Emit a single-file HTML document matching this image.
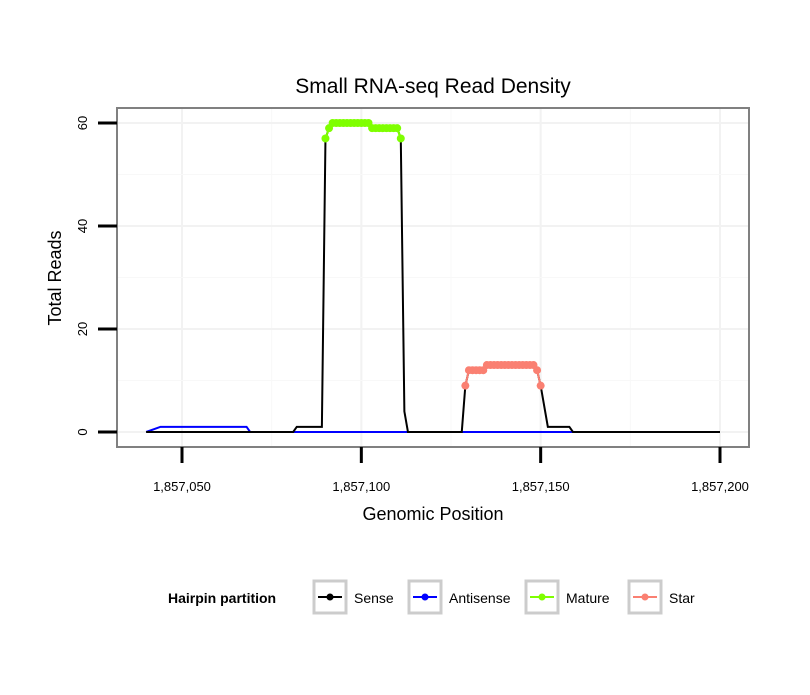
<!DOCTYPE html>
<html><head><meta charset="utf-8"><style>
body{margin:0;background:#fff;font-family:"Liberation Sans",sans-serif}
</style></head><body>
<svg width="810" height="690" xmlns="http://www.w3.org/2000/svg" font-family="Liberation Sans, sans-serif">
<g id="plot"></g>
</svg>
<script>
const xTicks=[1857050,1857100,1857150,1857200];
const xTickLabels=["1,857,050","1,857,100","1,857,150","1,857,200"];
const yTicks=[0,20,40,60];
const sensePos=[1857040,1857081,1857082,1857089,1857090,1857091,1857092,1857093,1857094,1857095,1857096,1857097,1857098,1857099,1857100,1857101,1857102,1857103,1857104,1857105,1857106,1857107,1857108,1857109,1857110,1857111,1857112,1857113,1857128,1857129,1857130,1857131,1857132,1857133,1857134,1857135,1857136,1857137,1857138,1857139,1857140,1857141,1857142,1857143,1857144,1857145,1857146,1857147,1857148,1857149,1857150,1857152,1857158,1857159,1857200];
const senseVal=[0,0,1,1,57,59,60,60,60,60,60,60,60,60,60,60,60,59,59,59,59,59,59,59,59,57,4,0,0,9,12,12,12,12,12,13,13,13,13,13,13,13,13,13,13,13,13,13,13,12,9,1,1,0,0];
const antiPos=[1857040,1857044,1857068,1857069,1857200];
const antiVal=[0,1,1,0,0];
const maturePos=[1857090,1857091,1857092,1857093,1857094,1857095,1857096,1857097,1857098,1857099,1857100,1857101,1857102,1857103,1857104,1857105,1857106,1857107,1857108,1857109,1857110,1857111];
const matureVal=[57,59,60,60,60,60,60,60,60,60,60,60,60,59,59,59,59,59,59,59,59,57];
const starPos=[1857129,1857130,1857131,1857132,1857133,1857134,1857135,1857136,1857137,1857138,1857139,1857140,1857141,1857142,1857143,1857144,1857145,1857146,1857147,1857148,1857149,1857150];
const starVal=[9,12,12,12,12,12,13,13,13,13,13,13,13,13,13,13,13,13,13,13,12,9];

const NS="http://www.w3.org/2000/svg";
const g=document.getElementById('plot');
const L=117,R=749,T=108,B=447;
const X=v=>182+(v-1857050)*(720-182)/150;
const Y=v=>432-v*(432-123)/60;
function el(t,a,p){const e=document.createElementNS(NS,t);for(const k in a)e.setAttribute(k,a[k]);(p||g).appendChild(e);return e;}

for(let i=0;i<xTicks.length;i++){
  const l=el('line',{x1:X(xTicks[i]),x2:X(xTicks[i]),y1:T,y2:B,stroke:'#f2f2f2','stroke-width':2});
  
  
  if(i<xTicks.length-1){const m=el('line',{x1:X(xTicks[i]+25),x2:X(xTicks[i]+25),y1:T,y2:B,stroke:'#f8f8f8','stroke-width':1});
  
  }
}
for(let i=0;i<yTicks.length;i++){
  const l=el('line',{x1:L,x2:R,y1:Y(yTicks[i]),y2:Y(yTicks[i]),stroke:'#f2f2f2','stroke-width':2});
  
  
  if(i<yTicks.length-1){const m=el('line',{x1:L,x2:R,y1:Y(yTicks[i]+10),y2:Y(yTicks[i]+10),stroke:'#f8f8f8','stroke-width':1});
  
  }
}
function line(px,vals,color,name){
  const p=el('polyline',{points:px.map((x,i)=>X(x)+','+Y(vals[i])).join(' '),fill:'none',stroke:color,'stroke-width':2});
  
  
}
line(antiPos,antiVal,'#0000ff','antisense-line');
line(sensePos,senseVal,'#000','sense-line');
function pts(px,vals,color,name){
  line(px,vals,color,name+'-line');
  px.forEach((x,i)=>{const c=el('circle',{cx:X(x),cy:Y(vals[i]),r:4,fill:color});
  
  });
}
pts(maturePos,matureVal,'#7fff00','mature');
pts(starPos,starVal,'#fa8072','star');
const fr=el('rect',{x:L,y:T,width:R-L,height:B-T,fill:'none',stroke:'#808080','stroke-width':2});


xTicks.forEach((v,i)=>{
  const t=el('line',{x1:X(v),x2:X(v),y1:B,y2:463,stroke:'#000','stroke-width':3});
  
  
  const s=el('text',{x:X(v),y:491,'text-anchor':'middle','font-size':13});s.textContent=xTickLabels[i];
  
  
});
yTicks.forEach(v=>{
  const t=el('line',{x1:98,x2:L,y1:Y(v),y2:Y(v),stroke:'#000','stroke-width':3});
  
  
  const s=el('text',{x:0,y:0,'text-anchor':'middle','font-size':13,transform:`translate(87,${Y(v)}) rotate(-90)`});s.textContent=v;
  
  
});
</script>
<svg style="position:absolute;left:0;top:0" width="810" height="690">
<text x="433" y="93" text-anchor="middle" font-size="21" font-family="Liberation Sans">Small RNA-seq Read Density</text>
<text x="433" y="520" text-anchor="middle" font-size="18" font-family="Liberation Sans">Genomic Position</text>
<text transform="translate(61,278) rotate(-90)" text-anchor="middle" font-size="18" font-family="Liberation Sans">Total Reads</text>
<g font-family="Liberation Sans" font-size="14">
<text x="168" y="603" font-weight="bold">Hairpin partition</text>
<g><rect x="314" y="581" width="32" height="32" fill="#fff" stroke="#ccc" stroke-width="3"/><line x1="318" x2="342" y1="597" y2="597" stroke="#000" stroke-width="2"/><circle cx="330" cy="597" r="3.5" fill="#000"/><text x="354" y="603">Sense</text></g>
<g><rect x="409" y="581" width="32" height="32" fill="#fff" stroke="#ccc" stroke-width="3"/><line x1="413" x2="437" y1="597" y2="597" stroke="#00f" stroke-width="2"/><circle cx="425" cy="597" r="3.5" fill="#00f"/><text x="449" y="603">Antisense</text></g>
<g><rect x="526" y="581" width="32" height="32" fill="#fff" stroke="#ccc" stroke-width="3"/><line x1="530" x2="554" y1="597" y2="597" stroke="#7fff00" stroke-width="2"/><circle cx="542" cy="597" r="3.5" fill="#7fff00"/><text x="566" y="603">Mature</text></g>
<g><rect x="629" y="581" width="32" height="32" fill="#fff" stroke="#ccc" stroke-width="3"/><line x1="633" x2="657" y1="597" y2="597" stroke="#fa8072" stroke-width="2"/><circle cx="645" cy="597" r="3.5" fill="#fa8072"/><text x="669" y="603">Star</text></g>
</g>
</svg>
</body></html>
